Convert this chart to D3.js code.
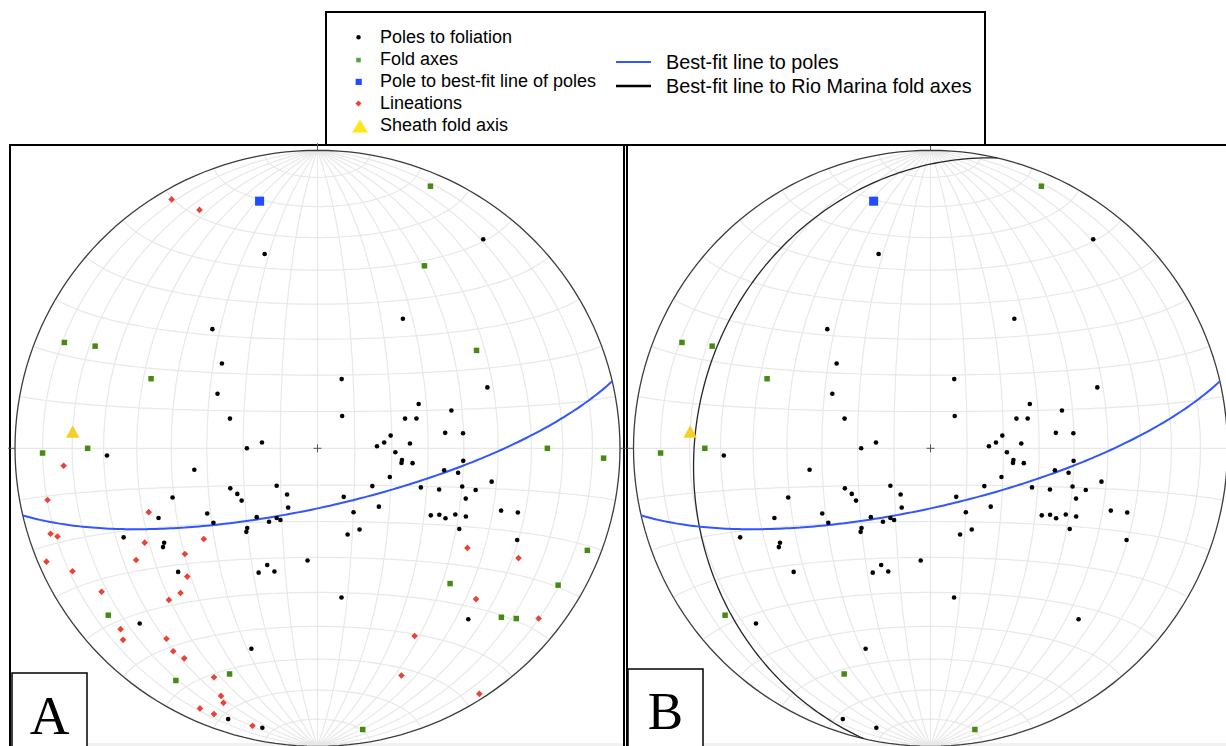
<!DOCTYPE html>
<html>
<head>
<meta charset="utf-8">
<title>Stereonets: foliation, fold axes and lineations</title>
<script src="https://cdn.jsdelivr.net/npm/d3@7"></script>
<style>
  body { margin: 0; background: #fff; }
  svg { display: block; }
</style>
</head>
<body>
<svg id="chart" width="1226" height="746"></svg>
<script>
// ---------------------------------------------------------------------------
// Field measurements (lower-hemisphere, equal-area)
// ---------------------------------------------------------------------------

// Foliation planes as [strike, dip] (right-hand rule); plotted as poles
const foliation = [
  [75,57],[49,44],[42,35],[29,31],[19,25],[6,15],[0,19],[358,59],[128,78],[123,43],
  [109,20],[160,50],[127,11],[156,30],[164,38],[161,25],[163,28],[173,35],[174,40],[170,20],
  [175,18],[178,16],[177,25],[183,21],[188,23],[190,23],[189,26],[185,40],[202,21],[190,35],
  [190,39],[215,18],[201,30],[199,35],[195,41],[195,45],[191,49],[242,15],[199,43],[224,23],
  [241,20],[211,36],[209,38],[209,40],[206,42],[205,45],[199,54],[198,59],[251,25],[243,25],
  [210,45],[205,62],[261,42],[229,65],[350,34],[335,26],[330,25],[325,25],[317,15],[303,15],
  [296,18],[341,42],[329,35],[324,35],[336,48],[311,25],[303,24],[300,22],[297,22],[311,29],
  [310,30],[335,60],[328,50],[327,51],[275,31],[295,38],[293,35],[289,36],[318,52],[315,72],
  [288,60],[288,85],[281,85]
];

// Lineations as [trend, plunge]
const lineations = [
  [330,4],[334,12],[266,17],[259,10],[249,40],[252,8],[251,10],[241,35],[231,50],[238,30],
  [247,3],[231,43],[243,10],[225,39],[223,34],[224,30],[236,15],[227,12],[225,10],[218,20],
  [215,18],[212,18],[204,17],[201,12],[200,10],[204,5],[201,5],[193,5],[124,40],[119,25],
  [134,28],[128,8],[153,30],[160,20],[147,2]
];

// Fold axes as [trend, plunge]
const foldAxesRioMarina = [
  [293,10],[295,20],[293,40],[270,25],[269,10],[23,5],[231,12],[201,20],[171,5]
];
const foldAxesOther = [
  [30,30],[58,38],[90,25],[92,6],[211,10],[111,5],[136,37],[120,9],[133,18],[131,14]
];

// Pole to the best-fit great circle through the foliation poles, [trend, plunge]
const bestFitPole = [347, 16];
// Sheath fold axis, [trend, plunge]
const sheathFoldAxis = [274, 20];
// Best-fit plane to the Rio Marina fold axes, [strike, dip]
const rioMarinaPlane = [193, 22];

// Text
const legendPointLabels = [
  "Poles to foliation",
  "Fold axes",
  "Pole to best-fit line of poles",
  "Lineations",
  "Sheath fold axis"
];
const legendLineLabels = [
  "Best-fit line to poles",
  "Best-fit line to Rio Marina fold axes"
];
const panelLabels = ["A", "B"];

// ---------------------------------------------------------------------------
// Styles
// ---------------------------------------------------------------------------
const C = {
  pole: "#000000",
  fold: "#468a12",
  foldLegend: "#56a04a",
  bestPole: "#1f4dff",
  lineation: "#ea4335",
  sheath: "#f4cf28",
  sheathLegend: "#ffe51a",
  bestLine: "#3256ff",
  rioLine: "#262626",
  grid: "#e8e8e8",
  rim: "#3c3c3c"
};

// ---------------------------------------------------------------------------
// Geometry helpers
// ---------------------------------------------------------------------------
const RAD = Math.PI / 180, DEG = 180 / Math.PI;

// A line (trend, plunge) -> net longitude/latitude, net centre = vertical
function lineToLonLat([trend, plunge]) {
  const t = trend * RAD, p = plunge * RAD;
  const east = Math.cos(p) * Math.sin(t);
  const north = Math.cos(p) * Math.cos(t);
  const down = Math.sin(p);
  return [Math.atan2(east, down) * DEG, Math.asin(Math.max(-1, Math.min(1, north))) * DEG];
}
const poleOfPlane = ([strike, dip]) => [(strike + 270) % 360, 90 - dip];

// Great circle perpendicular to a pole, as an open line so that clipping
// keeps only the lower-hemisphere trace
function greatCircle(pole) {
  const ring = d3.geoCircle().center(lineToLonLat(pole)).radius(90).precision(1)().coordinates[0];
  return { type: "LineString", coordinates: ring };
}

const svg = d3.select("#chart");
const W = 1226, H = 746;

svg.append("rect").attr("width", W).attr("height", H).attr("fill", "#fff");
svg.append("rect").attr("x", 11).attr("y", 743).attr("width", W - 11).attr("height", 3).attr("fill", "#f1f1f1");

// ---------------------------------------------------------------------------
// Panels
// ---------------------------------------------------------------------------
const panels = [
  { label: panelLabels[0], cx: 317.5, cy: 448.3, rx: 302.5, ry: 298,
    frame: { x: 10, y: 145, w: 614 }, box: { x: 12, y: 673, w: 75, ty: 734, size: 55 },
    foldSets: [foldAxesRioMarina, foldAxesOther], showLineations: true, showRioPlane: false },
  { label: panelLabels[1], cx: 930.5, cy: 448.3, rx: 297, ry: 298,
    frame: { x: 627, y: 145, w: 620 }, box: { x: 628, y: 669, w: 75, ty: 729, size: 53 },
    foldSets: [foldAxesRioMarina], showLineations: false, showRioPlane: true }
];

panels.forEach(pn => {
  const g = svg.append("g");

  g.append("rect")
    .attr("x", pn.frame.x).attr("y", pn.frame.y)
    .attr("width", pn.frame.w).attr("height", H - pn.frame.y + 20)
    .attr("fill", "none").attr("stroke", "#000").attr("stroke-width", 2);

  const projection = d3.geoAzimuthalEqualArea()
    .scale(pn.ry / Math.SQRT2)
    .translate([pn.cx, pn.cy])
    .clipAngle(90)
    .precision(0.2);
  const sx = pn.rx / pn.ry;
  const stretch = d3.geoTransform({
    point(x, y) { this.stream.point(pn.cx + (x - pn.cx) * sx, y); }
  });
  const path = d3.geoPath({ stream: s => projection.stream(stretch.stream(s)) });
  const place = line => {
    const [x, y] = projection(lineToLonLat(line));
    return [pn.cx + (x - pn.cx) * sx, y];
  };

  // Net grid
  const graticule = d3.geoGraticule()
    .extentMinor([[-180, -90 + 1e-6], [180, 90 - 1e-6]])
    .step([10, 10]);
  g.append("path").datum(graticule())
    .attr("d", path).attr("fill", "none")
    .attr("stroke", C.grid).attr("stroke-width", 1.2);

  // Primitive circle
  g.append("path").datum({ type: "Sphere" })
    .attr("d", path).attr("fill", "none")
    .attr("stroke", C.rim).attr("stroke-width", 1.3);

  // Cardinal ticks and centre cross
  const ticks = [0, 90, 180, 270].map(a => {
    const s = Math.sin(a * RAD), c = Math.cos(a * RAD);
    return `M${pn.cx + pn.rx * s},${pn.cy - pn.ry * c}L${pn.cx + (pn.rx + 7) * s},${pn.cy - (pn.ry + 7) * c}`;
  }).join("");
  g.append("path").attr("d", ticks).attr("stroke", "#555").attr("stroke-width", 1);
  g.append("path")
    .attr("d", `M${pn.cx - 4},${pn.cy}h8M${pn.cx},${pn.cy - 4}v8`)
    .attr("stroke", "#555").attr("stroke-width", 1);

  // Great circles
  if (pn.showRioPlane) {
    g.append("path").datum(greatCircle(poleOfPlane(rioMarinaPlane)))
      .attr("d", path).attr("fill", "none")
      .attr("stroke", C.rioLine).attr("stroke-width", 1.3);
  }
  g.append("path").datum(greatCircle(bestFitPole))
    .attr("d", path).attr("fill", "none")
    .attr("stroke", C.bestLine).attr("stroke-width", 2);

  // Poles to foliation
  g.append("g").selectAll("circle")
    .data(foliation.map(poleOfPlane))
    .join("circle")
    .attr("transform", d => `translate(${place(d)})`)
    .attr("r", 2.3).attr("fill", C.pole);

  // Fold axes
  const foldSym = d3.symbol(d3.symbolSquare, 30);
  pn.foldSets.forEach(set => {
    g.append("g").selectAll("path")
      .data(set).join("path")
      .attr("d", foldSym)
      .attr("transform", d => `translate(${place(d)})`)
      .attr("fill", C.fold);
  });

  // Pole to best-fit line
  g.append("path")
    .attr("d", d3.symbol(d3.symbolSquare, 82))
    .attr("transform", `translate(${place(bestFitPole)})`)
    .attr("fill", C.bestPole);

  // Lineations
  if (pn.showLineations) {
    const linSym = d3.symbol(d3.symbolSquare, 22);
    g.append("g").selectAll("path")
      .data(lineations).join("path")
      .attr("d", linSym)
      .attr("transform", d => `translate(${place(d)}) rotate(45)`)
      .attr("fill", C.lineation);
  }

  // Sheath fold axis
  const tw = 13.5, th = 12.5;
  g.append("path")
    .attr("d", `M0,${-th / 2}L${tw / 2},${th / 2}L${-tw / 2},${th / 2}Z`)
    .attr("transform", `translate(${place(sheathFoldAxis)})`)
    .attr("fill", C.sheath);

  // Panel label
  g.append("rect")
    .attr("x", pn.box.x).attr("y", pn.box.y)
    .attr("width", pn.box.w).attr("height", H - pn.box.y + 10)
    .attr("fill", "#fff").attr("stroke", "#000").attr("stroke-width", 1.5);
  g.append("text")
    .attr("x", pn.box.x + pn.box.w / 2).attr("y", pn.box.ty)
    .attr("text-anchor", "middle")
    .attr("font-family", "'Liberation Serif', 'Times New Roman', serif")
    .attr("font-size", pn.box.size)
    .text(pn.label);
});

// ---------------------------------------------------------------------------
// Legend
// ---------------------------------------------------------------------------
const lg = svg.append("g");
lg.append("rect")
  .attr("x", 326).attr("y", 12).attr("width", 659).attr("height", 133)
  .attr("fill", "#fff").attr("stroke", "#000").attr("stroke-width", 2);

const font = "'Liberation Sans', Arial, Helvetica, sans-serif";
const rowY = d3.scalePoint().domain(d3.range(legendPointLabels.length)).range([43.3, 130.5]);

const legendMarkers = [
  g => g.append("circle").attr("r", 2.2).attr("fill", C.pole),
  g => g.append("path").attr("d", d3.symbol(d3.symbolSquare, 21)()).attr("fill", C.foldLegend),
  g => g.append("path").attr("d", d3.symbol(d3.symbolSquare, 38)()).attr("fill", C.bestPole),
  g => g.append("path").attr("d", d3.symbol(d3.symbolSquare, 19)()).attr("transform", "rotate(45)").attr("fill", C.lineation),
  g => g.append("path").attr("d", "M0,-6.5L8,6.5L-8,6.5Z").attr("fill", C.sheathLegend)
];
const markerX = [358.5, 358.5, 358.7, 358.5, 360];
const markerDy = [-6, -5, -5, -5.2, -4.5];

legendPointLabels.forEach((label, i) => {
  const y = rowY(i);
  const mg = lg.append("g").attr("transform", `translate(${markerX[i]},${y + markerDy[i]})`);
  legendMarkers[i](mg);
  lg.append("text").attr("x", 380).attr("y", y)
    .attr("font-family", font).attr("font-size", 18).attr("fill", "#000")
    .text(label);
});

const lineRows = [
  { y: 62, color: C.bestLine, width: 2 },
  { y: 86, color: "#000", width: 2.6 }
];
legendLineLabels.forEach((label, i) => {
  const r = lineRows[i];
  lg.append("line").attr("x1", 616).attr("x2", 651).attr("y1", r.y).attr("y2", r.y)
    .attr("stroke", r.color).attr("stroke-width", r.width);
  lg.append("text").attr("x", 666).attr("y", r.y + 7)
    .attr("font-family", font).attr("font-size", 19.8).attr("fill", "#000")
    .text(label);
});
</script>
</body>
</html>
